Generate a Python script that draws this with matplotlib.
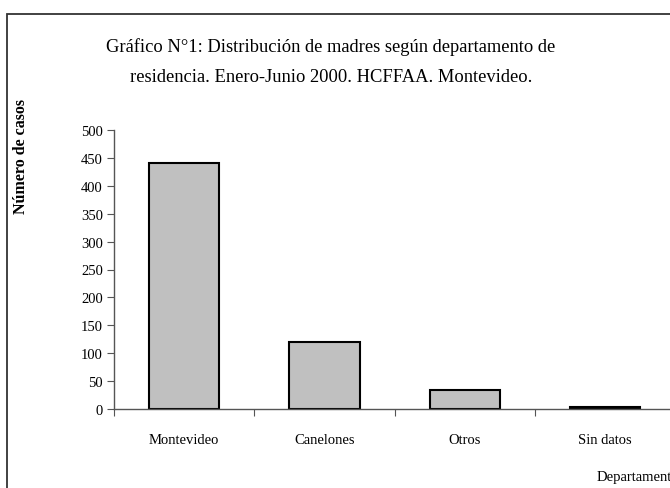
import matplotlib
matplotlib.use("Agg")
import matplotlib.pyplot as plt
from matplotlib.patches import Rectangle

categories = ["Montevideo", "Canelones", "Otros", "Sin datos"]
values = [440, 120, 34, 3]
yticks = [0, 50, 100, 150, 200, 250, 300, 350, 400, 450, 500]

plt.rcParams['font.family'] = ['Liberation Serif', 'DejaVu Serif']

fig = plt.figure(figsize=(6.7, 4.89), dpi=100)
ax = fig.add_axes([114/670, 1-410/489, (675.5-114)/670, (410-131)/489])

pos = [i + 0.5 for i in range(len(categories))]
ax.bar(pos, values, width=0.5, color="#C0C0C0", edgecolor="black", linewidth=1.5)

ax.set_xlim(0, len(categories))
ax.set_ylim(0, 500)
ax.set_yticks(yticks)
ax.set_yticklabels([str(v) for v in yticks], fontsize=10.5)
ax.set_xticks(range(len(categories) + 1))
ax.set_xticklabels([])
ax.set_xticks(pos, minor=True)
ax.set_xticklabels(categories, minor=True, fontsize=10.5)
ax.tick_params(axis='x', which='minor', length=0, pad=17)
ax.tick_params(axis='x', which='major', length=5, color='#555555', direction='out')
ax.tick_params(axis='y', length=5, color='#555555', direction='out', pad=3)

for s in ['top', 'right']:
    ax.spines[s].set_visible(False)
for s in ['left', 'bottom']:
    ax.spines[s].set_color('#555555')
    ax.spines[s].set_linewidth(1.0)

fig.text(331/670, 1-47/489, "Gráfico N°1: Distribución de madres según departamento de",
         ha='center', va='center', fontsize=13.3)
fig.text(331/670, 1-77/489, "residencia. Enero-Junio 2000. HCFFAA. Montevideo.",
         ha='center', va='center', fontsize=13.3)

fig.text(21/670, 1-157/489, "Número de casos", rotation=90, ha='center', va='center',
         fontsize=11.5, fontweight='bold')
fig.text(597/670, 1-478/489, "Departamento", ha='left', va='center', fontsize=10.5)

fig.add_artist(Rectangle((7/670, -0.1), 1.2, 1 - 15/489 + 0.1, transform=fig.transFigure,
                         fill=False, edgecolor='#333333', linewidth=1.3))

fig.savefig("out.png", dpi=100)
